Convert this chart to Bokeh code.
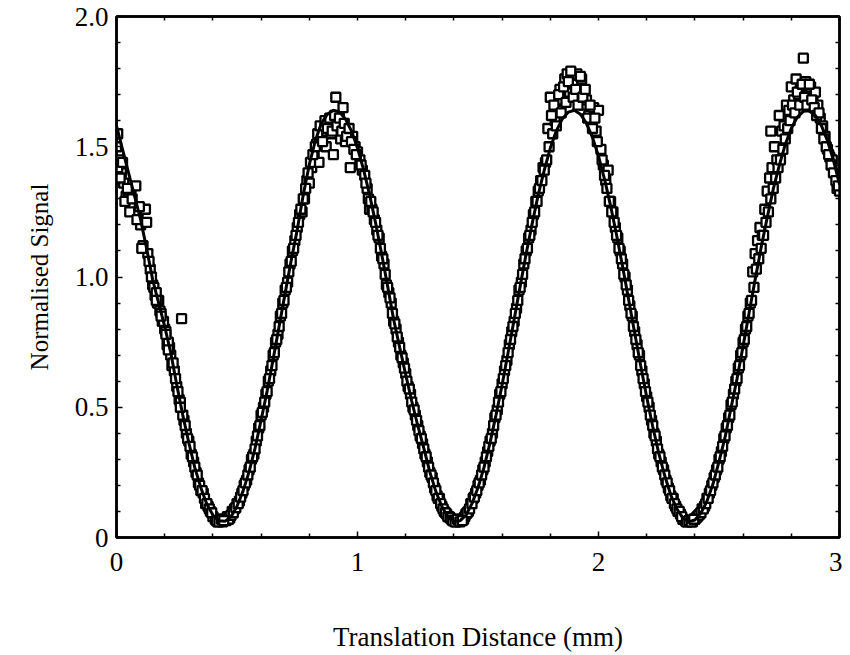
from bokeh.plotting import figure
from bokeh.models import Range1d, LinearAxis, FixedTicker, ColumnDataSource
from bokeh.embed import file_html
from bokeh.resources import INLINE

# ---- fitted curve ----
FIT_X = [0.000, 0.025, 0.050, 0.075, 0.100, 0.125, 0.150, 0.175, 0.200, 0.225,
         0.250, 0.275, 0.300, 0.325, 0.350, 0.375, 0.400, 0.425, 0.450, 0.475,
         0.500, 0.525, 0.550, 0.575, 0.600, 0.625, 0.650, 0.675, 0.700, 0.725,
         0.750, 0.775, 0.800, 0.825, 0.850, 0.875, 0.900, 0.925, 0.950, 0.975,
         1.000, 1.025, 1.050, 1.075, 1.100, 1.125, 1.150, 1.175, 1.200, 1.225,
         1.250, 1.275, 1.300, 1.325, 1.350, 1.375, 1.400, 1.425, 1.450, 1.475,
         1.500, 1.525, 1.550, 1.575, 1.600, 1.625, 1.650, 1.675, 1.700, 1.725,
         1.750, 1.775, 1.800, 1.825, 1.850, 1.875, 1.900, 1.925, 1.950, 1.975,
         2.000, 2.025, 2.050, 2.075, 2.100, 2.125, 2.150, 2.175, 2.200, 2.225,
         2.250, 2.275, 2.300, 2.325, 2.350, 2.375, 2.400, 2.425, 2.450, 2.475,
         2.500, 2.525, 2.550, 2.575, 2.600, 2.625, 2.650, 2.675, 2.700, 2.725,
         2.750, 2.775, 2.800, 2.825, 2.850, 2.875, 2.900, 2.925, 2.950, 2.975,
         3.000]
FIT_Y = [1.58, 1.49, 1.40, 1.31, 1.22, 1.11, 0.99, 0.90, 0.81, 0.710,
         0.586, 0.470, 0.364, 0.268, 0.191, 0.128, 0.086, 0.064, 0.062, 0.080,
         0.120, 0.178, 0.252, 0.343, 0.451, 0.562, 0.684, 0.812, 0.939, 1.064,
         1.182, 1.316, 1.431, 1.523, 1.590, 1.625, 1.640, 1.633, 1.607, 1.560,
         1.495, 1.413, 1.316, 1.208, 1.089, 0.965, 0.837, 0.730, 0.625, 0.524,
         0.430, 0.343, 0.252, 0.177, 0.119, 0.080, 0.062, 0.064, 0.086, 0.130,
         0.191, 0.269, 0.364, 0.471, 0.586, 0.710, 0.837, 0.965, 1.090, 1.206,
         1.316, 1.410, 1.495, 1.561, 1.607, 1.633, 1.640, 1.625, 1.590, 1.536,
         1.464, 1.376, 1.274, 1.161, 1.040, 0.914, 0.786, 0.660, 0.539, 0.426,
         0.324, 0.237, 0.163, 0.110, 0.075, 0.061, 0.067, 0.094, 0.139, 0.205,
         0.291, 0.384, 0.498, 0.610, 0.735, 0.863, 0.990, 1.114, 1.228, 1.337,
         1.428, 1.509, 1.571, 1.614, 1.636, 1.638, 1.620, 1.581, 1.523, 1.448,
         1.356]

# ---- measured points, main scan ----
SCAN_X = [0.00, 0.01, 0.02, 0.03, 0.04, 0.05, 0.06, 0.07, 0.08, 0.09,
          0.10, 0.11, 0.12, 0.13, 0.14, 0.15, 0.16, 0.17, 0.18, 0.19,
          0.20, 0.21, 0.22, 0.23, 0.24, 0.25, 0.26, 0.27, 0.28, 0.29,
          0.30, 0.31, 0.32, 0.33, 0.34, 0.35, 0.36, 0.37, 0.38, 0.39,
          0.40, 0.41, 0.42, 0.43, 0.44, 0.45, 0.46, 0.47, 0.48, 0.49,
          0.50, 0.51, 0.52, 0.53, 0.54, 0.55, 0.56, 0.57, 0.58, 0.59,
          0.60, 0.61, 0.62, 0.63, 0.64, 0.65, 0.66, 0.67, 0.68, 0.69,
          0.70, 0.71, 0.72, 0.73, 0.74, 0.75, 0.76, 0.77, 0.78, 0.79,
          0.80, 0.81, 0.82, 0.83, 0.84, 0.85, 0.86, 0.87, 0.88, 0.89,
          0.90, 0.91, 0.92, 0.93, 0.94, 0.95, 0.96, 0.97, 0.98, 0.99,
          1.00, 1.01, 1.02, 1.03, 1.04, 1.05, 1.06, 1.07, 1.08, 1.09,
          1.10, 1.11, 1.12, 1.13, 1.14, 1.15, 1.16, 1.17, 1.18, 1.19,
          1.20, 1.21, 1.22, 1.23, 1.24, 1.25, 1.26, 1.27, 1.28, 1.29,
          1.30, 1.31, 1.32, 1.33, 1.34, 1.35, 1.36, 1.37, 1.38, 1.39,
          1.40, 1.41, 1.42, 1.43, 1.44, 1.45, 1.46, 1.47, 1.48, 1.49,
          1.50, 1.51, 1.52, 1.53, 1.54, 1.55, 1.56, 1.57, 1.58, 1.59,
          1.60, 1.61, 1.62, 1.63, 1.64, 1.65, 1.66, 1.67, 1.68, 1.69,
          1.70, 1.71, 1.72, 1.73, 1.74, 1.75, 1.76, 1.77, 1.78, 1.79,
          1.80, 1.81, 1.82, 1.83, 1.84, 1.85, 1.86, 1.87, 1.88, 1.89,
          1.90, 1.91, 1.92, 1.93, 1.94, 1.95, 1.96, 1.97, 1.98, 1.99,
          2.00, 2.01, 2.02, 2.03, 2.04, 2.05, 2.06, 2.07, 2.08, 2.09,
          2.10, 2.11, 2.12, 2.13, 2.14, 2.15, 2.16, 2.17, 2.18, 2.19,
          2.20, 2.21, 2.22, 2.23, 2.24, 2.25, 2.26, 2.27, 2.28, 2.29,
          2.30, 2.31, 2.32, 2.33, 2.34, 2.35, 2.36, 2.37, 2.38, 2.39,
          2.40, 2.41, 2.42, 2.43, 2.44, 2.45, 2.46, 2.47, 2.48, 2.49,
          2.50, 2.51, 2.52, 2.53, 2.54, 2.55, 2.56, 2.57, 2.58, 2.59,
          2.60, 2.61, 2.62, 2.63, 2.64, 2.65, 2.66, 2.67, 2.68, 2.69,
          2.70, 2.71, 2.72, 2.73, 2.74, 2.75, 2.76, 2.77, 2.78, 2.79,
          2.80, 2.81, 2.82, 2.83, 2.84, 2.85, 2.86, 2.87, 2.88, 2.89,
          2.90, 2.91, 2.92, 2.93, 2.94, 2.95, 2.96, 2.97, 2.98, 2.99,
          3.00]
SCAN_Y = [1.50, 1.45, 1.40, 1.36, 1.31, 1.30, 1.33, 1.27, 1.35, 1.25,
          1.20, 1.12, 1.26, 1.09, 1.03, 0.97, 0.93, 0.90, 0.87, 0.83,
          0.80, 0.74, 0.73, 0.66, 0.64, 0.58, 0.53, 0.84, 0.45, 0.40,
          0.37, 0.32, 0.29, 0.25, 0.21, 0.18, 0.17, 0.13, 0.12, 0.10,
          0.08, 0.07, 0.06, 0.065, 0.06, 0.07, 0.08, 0.075, 0.10, 0.11,
          0.13, 0.14, 0.17, 0.20, 0.22, 0.26, 0.30, 0.32, 0.37, 0.42,
          0.47, 0.50, 0.55, 0.60, 0.64, 0.70, 0.75, 0.78, 0.85, 0.90,
          0.95, 0.98, 1.05, 1.10, 1.14, 1.19, 1.24, 1.25, 1.30, 1.37,
          1.36, 1.42, 1.46, 1.51, 1.44, 1.53, 1.56, 1.50, 1.58, 1.55,
          1.47, 1.69, 1.57, 1.53, 1.65, 1.52, 1.55, 1.42, 1.54, 1.50,
          1.48, 1.45, 1.41, 1.39, 1.34, 1.26, 1.26, 1.22, 1.18, 1.15,
          1.08, 1.05, 0.97, 0.94, 0.90, 0.83, 0.80, 0.75, 0.70, 0.67,
          0.63, 0.58, 0.55, 0.50, 0.47, 0.43, 0.39, 0.36, 0.32, 0.29,
          0.25, 0.23, 0.19, 0.16, 0.15, 0.12, 0.10, 0.09, 0.08, 0.07,
          0.065, 0.06, 0.065, 0.07, 0.07, 0.09, 0.10, 0.13, 0.15, 0.17,
          0.20, 0.22, 0.26, 0.29, 0.33, 0.37, 0.40, 0.46, 0.49, 0.55,
          0.59, 0.64, 0.68, 0.74, 0.79, 0.83, 0.88, 0.95, 0.98, 1.05,
          1.10, 1.15, 1.18, 1.24, 1.29, 1.33, 1.37, 1.42, 1.44, 1.57,
          1.69, 1.55, 1.60, 1.64, 1.72, 1.68, 1.76, 1.78, 1.71, 1.77,
          1.74, 1.78, 1.70, 1.76, 1.66, 1.68, 1.62, 1.60, 1.65, 1.56,
          1.64, 1.49, 1.43, 1.37, 1.41, 1.29, 1.25, 1.19, 1.15, 1.10,
          1.05, 1.00, 0.95, 0.89, 0.85, 0.79, 0.74, 0.70, 0.64, 0.59,
          0.54, 0.50, 0.45, 0.40, 0.37, 0.32, 0.29, 0.26, 0.22, 0.19,
          0.16, 0.15, 0.12, 0.10, 0.09, 0.07, 0.065, 0.06, 0.065, 0.06,
          0.07, 0.08, 0.09, 0.11, 0.12, 0.15, 0.17, 0.20, 0.23, 0.26,
          0.30, 0.33, 0.38, 0.42, 0.46, 0.51, 0.55, 0.60, 0.65, 0.70,
          0.75, 0.80, 0.85, 0.90, 1.02, 1.09, 1.14, 1.19, 1.16, 1.26,
          1.33, 1.38, 1.42, 1.50, 1.45, 1.62, 1.56, 1.58, 1.66, 1.64,
          1.73, 1.68, 1.76, 1.70, 1.72, 1.84, 1.75, 1.70, 1.73, 1.68,
          1.71, 1.66, 1.61, 1.58, 1.54, 1.49, 1.46, 1.45, 1.41, 1.34,
          1.33]

# ---- measured points, in-between readings on the flanks ----
MID_X = [0.155, 0.165, 0.175, 0.185, 0.195, 0.205, 0.215, 0.225, 0.235, 0.245,
         0.255, 0.265, 0.275, 0.285, 0.295, 0.305, 0.315, 0.325, 0.335, 0.345,
         0.355, 0.365, 0.375, 0.385, 0.395, 0.455, 0.465, 0.475, 0.485, 0.495,
         0.505, 0.515, 0.525, 0.535, 0.545, 0.555, 0.565, 0.575, 0.585, 0.595,
         0.605, 0.615, 0.625, 0.635, 0.645, 0.655, 0.665, 0.675, 0.685, 0.695,
         0.705, 0.715, 0.725, 0.735, 0.745, 0.755, 0.765,
         1.065, 1.075, 1.085, 1.095, 1.105, 1.115, 1.125, 1.135, 1.145, 1.155,
         1.165, 1.175, 1.185, 1.195, 1.205, 1.215, 1.225, 1.235, 1.245, 1.255,
         1.265, 1.275, 1.285, 1.295, 1.305, 1.315, 1.325, 1.335, 1.345, 1.355,
         1.365, 1.375, 1.385, 1.395, 1.445, 1.455, 1.465, 1.475, 1.485, 1.495,
         1.505, 1.515, 1.525, 1.535, 1.545, 1.555, 1.565, 1.575, 1.585, 1.595,
         1.605, 1.615, 1.625, 1.635, 1.645, 1.655, 1.665, 1.675, 1.685, 1.695,
         1.705, 1.715, 1.725, 1.735, 1.745, 1.755, 1.765, 1.775,
         2.045, 2.055, 2.065, 2.075, 2.085, 2.095, 2.105, 2.115, 2.125, 2.135,
         2.145, 2.155, 2.165, 2.175, 2.185, 2.195, 2.205, 2.215, 2.225, 2.235,
         2.245, 2.255, 2.265, 2.275, 2.285, 2.295, 2.305, 2.315, 2.325, 2.335,
         2.345, 2.405, 2.415, 2.425, 2.435, 2.445, 2.455, 2.465, 2.475, 2.485,
         2.495, 2.505, 2.515, 2.525, 2.535, 2.545, 2.555, 2.565, 2.575, 2.585,
         2.595, 2.605, 2.615, 2.625, 2.635, 2.645]
MID_Y = [0.96, 0.94, 0.91, 0.86, 0.83, 0.79, 0.75, 0.70, 0.67, 0.61,
         0.56, 0.52, 0.47, 0.43, 0.38, 0.35, 0.31, 0.27, 0.24, 0.20,
         0.18, 0.15, 0.13, 0.11, 0.095, 0.065, 0.07, 0.085, 0.095, 0.115,
         0.13, 0.155, 0.18, 0.21, 0.24, 0.27, 0.31, 0.34, 0.39, 0.43,
         0.48, 0.52, 0.56, 0.61, 0.66, 0.71, 0.76, 0.81, 0.86, 0.91,
         0.96, 1.02, 1.06, 1.11, 1.16, 1.21, 1.26,
         1.25, 1.21, 1.16, 1.11, 1.07, 1.01, 0.96, 0.92, 0.86, 0.82,
         0.77, 0.73, 0.69, 0.65, 0.60, 0.57, 0.52, 0.49, 0.45, 0.41,
         0.38, 0.34, 0.31, 0.27, 0.24, 0.21, 0.18, 0.15, 0.13, 0.11,
         0.095, 0.08, 0.075, 0.065, 0.08, 0.095, 0.11, 0.13, 0.155, 0.18,
         0.21, 0.24, 0.27, 0.31, 0.35, 0.38, 0.43, 0.47, 0.52, 0.56,
         0.61, 0.66, 0.71, 0.76, 0.81, 0.86, 0.91, 0.96, 1.01, 1.07,
         1.11, 1.16, 1.21, 1.25, 1.29, 1.34, 1.37, 1.41,
         1.29, 1.25, 1.21, 1.16, 1.11, 1.07, 1.01, 0.97, 0.91, 0.86,
         0.81, 0.76, 0.71, 0.66, 0.61, 0.56, 0.52, 0.47, 0.43, 0.39,
         0.34, 0.31, 0.27, 0.24, 0.21, 0.18, 0.15, 0.13, 0.11, 0.10,
         0.08, 0.075, 0.085, 0.095, 0.11, 0.13, 0.15, 0.18, 0.21, 0.24,
         0.27, 0.31, 0.35, 0.39, 0.43, 0.47, 0.52, 0.57, 0.61, 0.66,
         0.71, 0.76, 0.81, 0.86, 0.91, 0.96]

# ---- measured points, extra readings near the turning points ----
EXTRA_X = [0.005, 0.005, 0.015, 0.025, 0.035, 0.045, 0.055, 0.065, 0.085, 0.095,
           0.105, 0.125, 0.135, 0.145, 0.165, 0.185, 0.205, 0.215, 0.265,
           0.775, 0.785, 0.795, 0.805, 0.815, 0.825, 0.835, 0.845, 0.855, 0.865,
           0.875, 0.885, 0.895, 0.905, 0.915, 0.925, 0.935, 0.945, 0.955, 0.965,
           0.975, 0.985, 0.995, 1.015, 1.035, 1.045, 1.055,
           1.785, 1.795, 1.805, 1.815, 1.825, 1.835, 1.845, 1.855, 1.865, 1.875,
           1.885, 1.895, 1.905, 1.915, 1.925, 1.935, 1.945, 1.955, 1.965, 1.975,
           1.985, 1.995, 2.015, 2.025, 2.035,
           2.655, 2.665, 2.675, 2.685, 2.695, 2.705, 2.715, 2.725, 2.735, 2.745,
           2.755, 2.765, 2.715, 2.775, 2.785, 2.795, 2.805, 2.815, 2.825, 2.835,
           2.845, 2.855, 2.865, 2.875, 2.885, 2.895, 2.905, 2.915, 2.925, 2.935,
           2.945, 2.955, 2.965, 2.975, 2.985, 2.995,
           0.415, 0.425, 0.435, 0.445, 1.405, 1.415, 1.425, 1.435,
           2.365, 2.375, 2.385, 2.395]
EXTRA_Y = [1.55, 1.42, 1.38, 1.44, 1.29, 1.34, 1.25, 1.30, 1.22, 1.27,
           1.11, 1.21, 1.06, 1.00, 0.91, 0.85, 0.78, 0.72, 0.50,
           1.30, 1.34, 1.40, 1.44, 1.47, 1.50, 1.55, 1.58, 1.52, 1.60,
           1.57, 1.61, 1.56, 1.62, 1.58, 1.61, 1.56, 1.59, 1.54, 1.57,
           1.52, 1.49, 1.47, 1.43, 1.36, 1.30, 1.29,
           1.45, 1.50, 1.62, 1.66, 1.58, 1.70, 1.63, 1.73, 1.67, 1.75,
           1.79, 1.69, 1.72, 1.66, 1.77, 1.69, 1.72, 1.61, 1.66, 1.57,
           1.61, 1.52, 1.45, 1.39, 1.34,
           1.03, 1.07, 1.11, 1.16, 1.21, 1.25, 1.30, 1.34, 1.38, 1.42,
           1.45, 1.49, 1.56, 1.53, 1.57, 1.60, 1.66, 1.63, 1.71, 1.66,
           1.74, 1.69, 1.66, 1.74, 1.68, 1.65, 1.62, 1.63, 1.57, 1.53,
           1.50, 1.47, 1.43, 1.40, 1.37, 1.35,
           0.065, 0.06, 0.07, 0.065, 0.06, 0.07, 0.06, 0.065,
           0.06, 0.065, 0.06, 0.07]

X_TICKS = [0, 1, 2, 3]
X_TICK_LABELS = ["0", "1", "2", "3"]
X_MINOR = [0.2, 0.4, 0.6, 0.8, 1.2, 1.4, 1.6, 1.8, 2.2, 2.4, 2.6, 2.8]
Y_TICKS = [0, 0.5, 1.0, 1.5, 2.0]
Y_TICK_LABELS = ["0", "0.5", "1.0", "1.5", "2.0"]
Y_MINOR = [0.1, 0.2, 0.3, 0.4, 0.6, 0.7, 0.8, 0.9, 1.1, 1.2, 1.3, 1.4,
           1.6, 1.7, 1.8, 1.9]

FONT = "Liberation Serif"

p = figure(width=842, height=655, output_backend="svg", toolbar_location=None,
           x_range=Range1d(0, 3), y_range=Range1d(0, 2),
           min_border_left=116, min_border_right=3, min_border_top=16,
           min_border_bottom=118, background_fill_color="white",
           border_fill_color="white")
p.xgrid.visible = False
p.ygrid.visible = False
p.outline_line_color = "black"
p.outline_line_width = 2.5

for xs, ys in ((SCAN_X, SCAN_Y), (MID_X, MID_Y), (EXTRA_X, EXTRA_Y)):
    src = ColumnDataSource(dict(x=xs, y=ys))
    p.scatter("x", "y", source=src, marker="square", size=9, fill_color="white",
              line_color="black", line_width=2.3)
p.line(FIT_X, FIT_Y, line_color="black", line_width=3)


def style(ax):
    ax.axis_line_color = "black"
    ax.axis_line_width = 2.5
    ax.major_tick_in = 6
    ax.major_tick_out = 0
    ax.minor_tick_in = 4
    ax.minor_tick_out = 0
    ax.major_tick_line_width = 1.5
    ax.minor_tick_line_width = 1.5
    ax.major_tick_line_color = "black"
    ax.minor_tick_line_color = "black"


xa = p.xaxis[0]
ya = p.yaxis[0]
for ax, ticks, minor, labels in ((xa, X_TICKS, X_MINOR, X_TICK_LABELS),
                                 (ya, Y_TICKS, Y_MINOR, Y_TICK_LABELS)):
    style(ax)
    ax.ticker = FixedTicker(ticks=ticks, minor_ticks=minor)
    ax.major_label_overrides = {t: l for t, l in zip(ticks, labels)}
    ax.major_label_text_font = FONT
    ax.major_label_text_font_size = "27px"
    ax.major_label_text_color = "black"
    ax.axis_label_text_font = FONT
    ax.axis_label_text_font_style = "normal"
    ax.axis_label_text_color = "black"

xa.major_label_standoff = 15
ya.major_label_standoff = 8
xa.axis_label = "Translation Distance (mm)"
ya.axis_label = "Normalised Signal"
xa.axis_label_text_font_size = "27px"
ya.axis_label_text_font_size = "25px"
xa.axis_label_standoff = 48
ya.axis_label_standoff = 19

# ticks (no labels) on the top and right edges of the frame
top = LinearAxis()
right = LinearAxis()
style(top)
style(right)
top.ticker = FixedTicker(ticks=[], minor_ticks=X_TICKS + X_MINOR)
right.ticker = FixedTicker(ticks=[], minor_ticks=Y_TICKS + Y_MINOR)
p.add_layout(top, "above")
p.add_layout(right, "right")

open("out.html", "w").write(file_html(p, INLINE))
